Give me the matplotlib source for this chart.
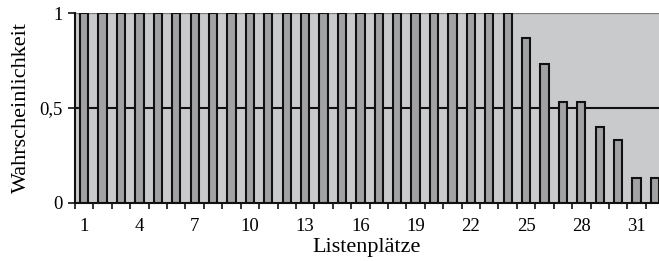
import matplotlib
matplotlib.use('Agg')
import matplotlib.pyplot as plt

plaetze = list(range(1, 33))
werte = [1.0] * 24 + [0.87, 0.73, 0.53, 0.53, 0.4, 0.33, 0.13, 0.13]
x_ticks = [1, 4, 7, 10, 13, 16, 19, 22, 25, 28, 31]
y_ticks = [0, 0.5, 1]
y_labels = ['0', '0,5', '1']

plt.rcParams['font.family'] = ['Liberation Serif', 'DejaVu Serif']

fig = plt.figure(figsize=(6.59, 2.61), dpi=100)
ax = fig.add_axes([75 / 659, 1 - 202.5 / 261, 1 - 75 / 659, 189.5 / 261])
ax.set_facecolor('#c9cacc')

ax.bar(plaetze, werte, width=0.45, color='#a2a2a4', edgecolor='#111111', linewidth=1.5, zorder=3)
ax.axhline(0.5, color='#111111', linewidth=1.5, zorder=2)
ax.axhline(1, color='#7a7a7a', linewidth=1.6, zorder=2)

ax.set_xlim(0.5, 32.22)
ax.set_ylim(0, 1)
ax.set_xticks([i + 0.5 for i in range(0, 32)])
ax.set_xticklabels([])
ax.set_xticks(x_ticks, minor=True)
ax.set_xticklabels([str(t) for t in x_ticks], minor=True, fontsize=13.5)
ax.tick_params(axis='x', which='major', direction='out', length=4, width=1.2, color='#111111')
ax.tick_params(axis='x', which='minor', length=0, pad=11)
ax.set_yticks(y_ticks)
ax.set_yticklabels(y_labels, fontsize=13.5)
ax.tick_params(axis='y', direction='out', length=5, width=1.2, color='#111111', pad=4)

for s in ['top', 'right']:
    ax.spines[s].set_visible(False)
for s in ['left', 'bottom']:
    ax.spines[s].set_linewidth(1.5)
    ax.spines[s].set_color('#111111')
    ax.spines[s].set_zorder(4)

ax.set_xlabel('Listenplätze', fontsize=16, labelpad=2)
ax.set_ylabel('Wahrscheinlichkeit', fontsize=16, labelpad=6)

fig.savefig('out.png', dpi=100)
